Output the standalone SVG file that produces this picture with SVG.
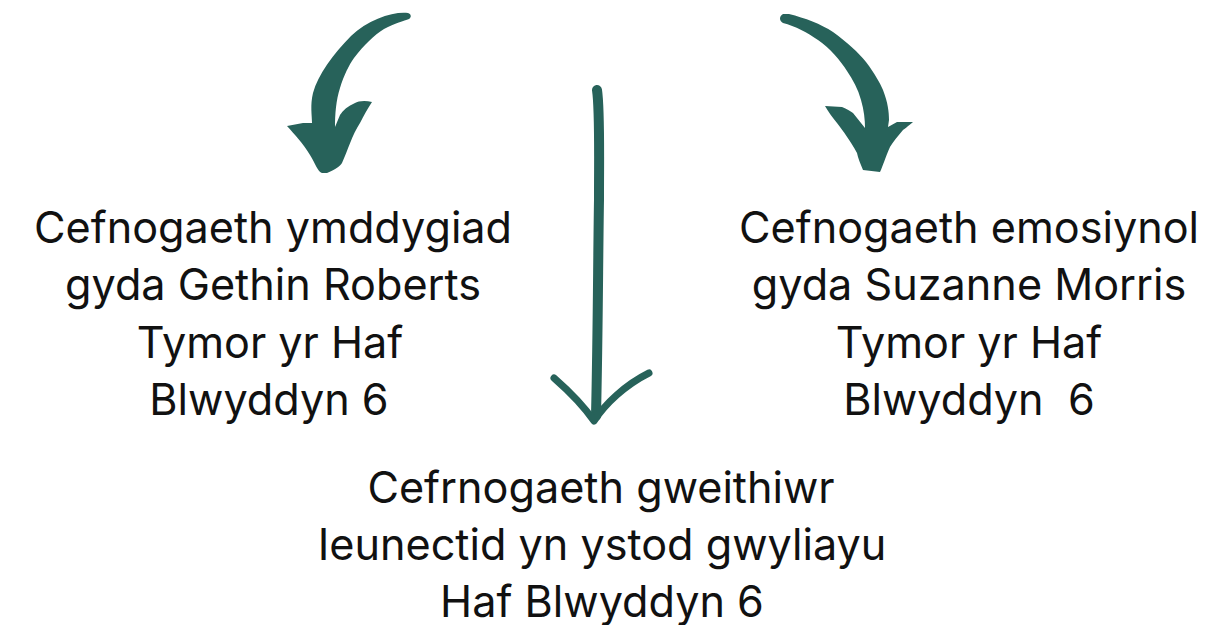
<svg xmlns="http://www.w3.org/2000/svg" width="1230" height="625" viewBox="0 0 1230 625">
<style>
.t{font-family:Inter,"Open Sans","Liberation Sans",sans-serif;font-size:43.2px;fill:#111;text-anchor:middle}
.a{fill:#27625a}
.s{fill:none;stroke:#27625a;stroke-linecap:round;stroke-linejoin:round}
</style>
<rect width="1230" height="625" fill="#fff"/>
<g id="connectors">
<path class="a" d="M408,13 C395,11 368,19 351,36 C333,54 318,75 313,93 C310,105 312,115 312,123 L303,123 L287,126 C295,135 303,143 310,155 C315,163 318,172 322,173 L327,173 C335,170 340,166 342,163 C348,150 352,135 360,123 C364,115 368,108 372,102 C365,100 358,101 355,103 C348,106 343,110 340,115 L335,127 C335,115 336,100 340,88 C344,75 349,65 354,58 C364,45 374,35 384,29 C395,23 404,21 409,19 C412,17 411,14 408,13 Z"/>
<path class="a" d="M789,14 C805,18 821,24 833,32 C848,43 858,52 866,62 C875,74 880,83 883,90 C888,103 889,112 889,120 L888,127 L897,122 L913,122 C908,126 906,128 903,130 C897,137 893,142 890,147 C885,158 883,166 880,172 L863,170 C860,163 858,158 857,153 C850,140 843,131 837,123 C832,117 828,111 825,106 L842,107 C847,109 850,111 853,113 L865,128 C865,120 864,110 861,100 C858,89 853,80 847,71 C840,60 830,48 818,40 C808,33 795,26 783,23 C779,21 779,16 783,14 Z"/>
<path class="s" stroke-width="10" d="M597,90 C600,110 599,150 599,200 C598,260 598,330 596,416"/>
<path class="s" stroke-width="7" d="M554,378 C570,392 583,405 594,421 C605,404 625,385 649,373"/>
</g>
<g id="node-left">
<text class="t" x="273" y="243">Cefnogaeth ymddygiad</text>
<text class="t" x="273" y="300">gyda Gethin Roberts</text>
<text class="t" x="270" y="358">Tymor yr Haf</text>
<text class="t" x="269" y="415">Blwyddyn 6</text>
</g>
<g id="node-right">
<text class="t" x="969" y="243">Cefnogaeth emosiynol</text>
<text class="t" x="969" y="300">gyda Suzanne Morris</text>
<text class="t" x="969" y="358">Tymor yr Haf</text>
<text class="t" x="969" y="415" xml:space="preserve">Blwyddyn  6</text>
</g>
<g id="node-bottom">
<text class="t" x="601" y="503">Cefrnogaeth gweithiwr</text>
<text class="t" x="602" y="560">Ieunectid yn ystod gwyliayu</text>
<text class="t" x="602" y="617">Haf Blwyddyn 6</text>
</g>
</svg>
